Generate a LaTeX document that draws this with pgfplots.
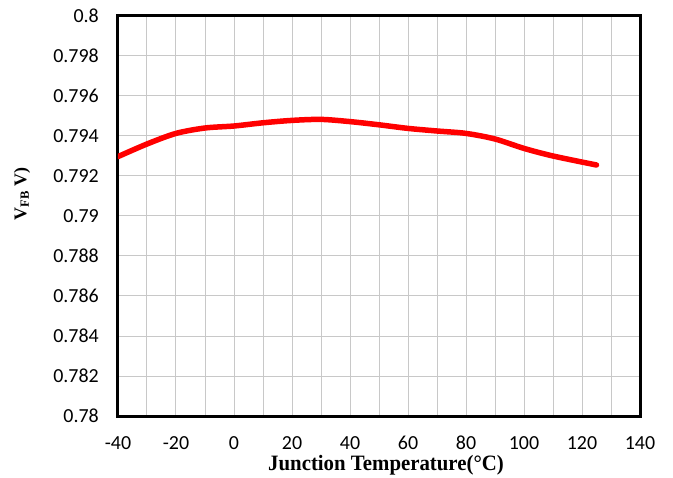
\documentclass[border=0pt]{standalone}
\usepackage{pgfplots}
\pgfplotsset{compat=1.18}
\usepackage{fontspec}
\setmainfont{Liberation Serif}
\newfontfamily\carlito{Carlito}
\definecolor{gridgray}{RGB}{200,200,200}
\begin{document}
\begin{tikzpicture}
\useasboundingbox (-118bp,-62bp) rectangle (555bp,416bp);
\begin{axis}[
  scale only axis, width=522bp, height=400bp,
  xmin=-40, xmax=140, ymin=0.78, ymax=0.8,
  xtick={-40,-20,0,20,40,60,80,100,120,140},
  xticklabels={-40,-20,0,20,40,60,80,100,120,140},
  minor xtick={-30,-10,10,30,50,70,90,110,130},
  ytick={0.78,0.782,0.784,0.786,0.788,0.79,0.792,0.794,0.796,0.798,0.8},
  yticklabels={0.78,0.782,0.784,0.786,0.788,0.79,0.792,0.794,0.796,0.798,0.8},
  xmajorgrids, xminorgrids, ymajorgrids,
  grid style={gridgray, line width=1bp},
  minor grid style={gridgray, line width=1bp},
  major tick length=0pt, minor tick length=0pt,
  axis line style={line width=3bp},
  xticklabel style={font=\fontsize{20}{20}\selectfont\carlito, anchor=center, inner sep=0pt, yshift=-27bp},
  yticklabel style={font=\fontsize{20}{20}\selectfont\carlito, anchor=east, inner sep=0pt, xshift=-19bp},
  every axis x label/.style={at={(rel axis cs:0,0)}, xshift=268bp, yshift=-49bp, anchor=center, inner sep=0pt},
  every axis y label/.style={at={(rel axis cs:0,0)}, xshift=-96bp, yshift=222bp, rotate=90, anchor=center, inner sep=0pt},
  xlabel={\scalebox{0.95}[1]{\fontsize{22}{22}\selectfont\bfseries Junction Temperature(°C)}},
  ylabel={\fontsize{18}{18}\selectfont\bfseries V\textsubscript{FB} V)},
]
\addplot[red, line width=5.5bp, smooth, line cap=round] coordinates {
(-40,0.79297) (-30,0.79360) (-20,0.79413) (-10,0.79440) (0,0.79450)
(10,0.79466) (20,0.79478) (30,0.79483) (40,0.79472) (50,0.79456)
(60,0.79438) (70,0.79425) (80,0.79413) (90,0.79385) (100,0.79338)
(110,0.79300) (125,0.79255)
};
\end{axis}
\end{tikzpicture}
\end{document}
